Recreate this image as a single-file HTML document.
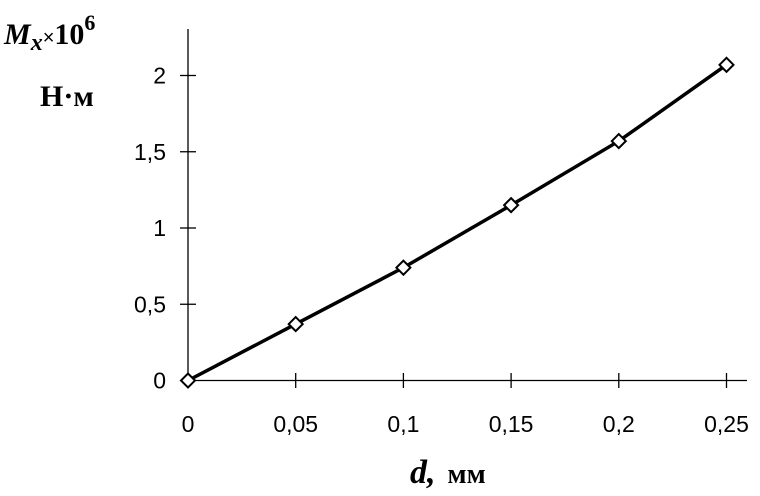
<!DOCTYPE html>
<html><head><meta charset="utf-8"><style>
html,body{margin:0;padding:0;background:#fff;}
svg{display:block;}
.tk{font-family:"Liberation Sans",sans-serif;font-size:23px;fill:#000;}
.ttl{font-family:"Liberation Serif",serif;font-weight:bold;fill:#000;}
</style></head><body>
<svg id="chart" width="760" height="496" viewBox="0 0 760 496">
<g id="axes"></g>
<g id="series"></g>
<text class="ttl" x="4" y="44" font-size="30" font-style="italic">M<tspan font-size="24" dy="6">x</tspan><tspan font-style="normal" font-weight="normal" font-size="20" dy="-6" font-family="Liberation Sans">×</tspan><tspan font-style="normal" font-size="30">10</tspan><tspan font-style="normal" font-size="22" dy="-14">6</tspan></text>
<text class="ttl" x="40" y="106" font-size="30">Н·м</text>
<text class="ttl" x="410" y="483" font-size="34"><tspan font-style="italic">d,</tspan><tspan font-size="28" dx="12">мм</tspan></text>
</svg>
<script>
const xValues=[0,0.05,0.1,0.15,0.2,0.25];
const yValues=[0,0.37,0.74,1.15,1.57,2.07];
const xTicks=[0,0.05,0.1,0.15,0.2,0.25];
const xTickLabels=["0","0,05","0,1","0,15","0,2","0,25"];
const yTicks=[0,0.5,1,1.5,2];
const yTickLabels=["0","0,5","1","1,5","2"];
const NS="http://www.w3.org/2000/svg";
function sx(v){return 188+v/0.25*538.5;}
function sy(v){return 380.5-v*152.5;}
function mk(t,a,p){const e=document.createElementNS(NS,t);for(const k in a)e.setAttribute(k,a[k]);p.appendChild(e);return e;}
const ax=document.getElementById('axes'),se=document.getElementById('series');
let l=mk('line',{x1:188,y1:29,x2:188,y2:380.5,stroke:'#000','stroke-width':1.3},ax);


l=mk('line',{x1:188,y1:380.5,x2:747,y2:380.5,stroke:'#000','stroke-width':1.3},ax);


xTicks.forEach((v,i)=>{
 const x=sx(v);
 if(i>0){const t=mk('line',{x1:x,y1:373,x2:x,y2:388,stroke:'#000','stroke-width':1.3},ax);
 
 }
 const tx=mk('text',{x:x,y:432,'text-anchor':'middle',class:'tk'},ax);tx.textContent=xTickLabels[i];
 
 
});
yTicks.forEach((v,i)=>{
 const y=sy(v);
 if(i>0){const t=mk('line',{x1:180,y1:y,x2:196,y2:y,stroke:'#000','stroke-width':1.3},ax);
 
 }
 const tx=mk('text',{x:166,y:y+8,'text-anchor':'end',class:'tk'},ax);tx.textContent=yTickLabels[i];
 
 
});
const pts=xValues.map((v,i)=>sx(v)+','+sy(yValues[i])).join(' ');
const pl=mk('polyline',{points:pts,fill:'none',stroke:'#000','stroke-width':3.5},se);


xValues.forEach((v,i)=>{
 const x=sx(v),y=sy(yValues[i]),r=7;
 const p=mk('polygon',{points:`${x},${y-r} ${x+r},${y} ${x},${y+r} ${x-r},${y}`,fill:'#fff',stroke:'#000','stroke-width':2},se);
 
 
});
</script>
</body></html>
